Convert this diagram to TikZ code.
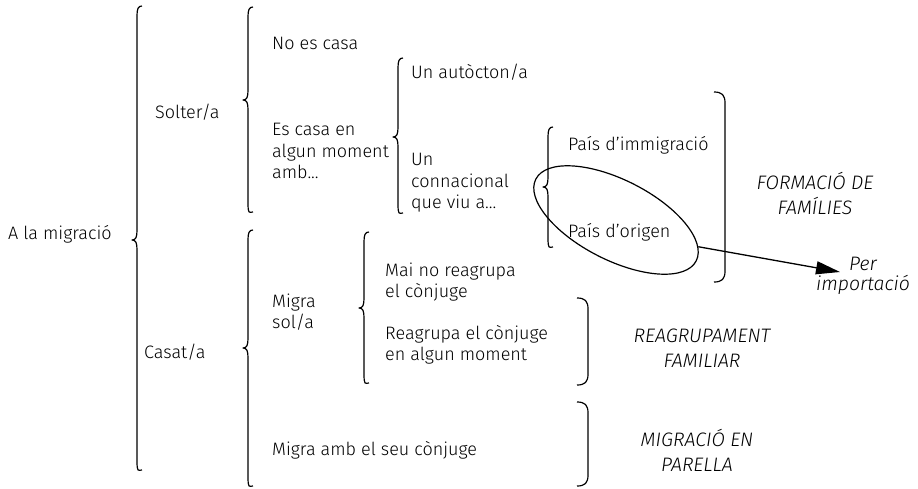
\documentclass[tikz,border=0pt]{standalone}
\usepackage{fontspec}
\setmainfont{Fira Sans Light}[ItalicFont={Fira Sans Light Italic}]
\usetikzlibrary{shapes.geometric,arrows.meta}
\tikzset{
  brc/.style={line width=1.2pt, line join=round},
  txt/.style={anchor=west, inner sep=0pt, align=left, font=\fontsize{18}{21.5}\selectfont},
  itx/.style={anchor=center, inner sep=0pt, align=center, font=\fontsize{19.5}{25}\selectfont\itshape},
}
% left curly brace: x of line, y top, y tip, y bottom (image y, downward)
\newcommand\brL[4]{\draw[brc] ({#1+5},{-(#2)}) .. controls ({#1+1},{-(#2)}) and (#1,{-(#2)-3}) .. (#1,{-(#2)-10}) -- (#1,{-(#3)+10}) .. controls (#1,{-(#3)+3}) and ({#1-1},{-(#3)}) .. ({#1-5},{-(#3)}) .. controls ({#1-1},{-(#3)}) and (#1,{-(#3)-3}) .. (#1,{-(#3)-10}) -- (#1,{-(#4)+10}) .. controls (#1,{-(#4)-3}) and ({#1+1},{-(#4)}) .. ({#1+5},{-(#4)});}
% right bracket without tip
\newcommand\brR[3]{\draw[brc] ({#1-11},{-(#2)}) .. controls ({#1-3},{-(#2)}) and (#1,{-(#2)-3}) .. (#1,{-(#2)-11}) -- (#1,{-(#3)+11}) .. controls (#1,{-(#3)+3}) and ({#1-3},{-(#3)}) .. ({#1-11},{-(#3)});}
\begin{document}
\begin{tikzpicture}[x=1pt,y=1pt]
\path[use as bounding box] (0,0) rectangle (918,-488);
% braces
\brL{137}{6}{240}{470}
\brL{248}{7}{100}{212}
\brL{398}{58}{137}{213}
\brL{548}{127}{187}{247}
\brL{248}{230}{348}{486}
\brL{364}{232}{308}{383}
\brR{725}{92}{282}
\brR{588}{298}{385}
\brR{588}{402}{486}
% texts
\node[txt] (mig) at (8,-234) {A la migració};
\node[txt] (sol) at (155,-112) {Solter/a};
\node[txt] (cas) at (144,-352) {Casat/a};
\node[txt] (noes) at (272,-43) {No es casa};
\node[txt] (esc) at (272,-151) {Es casa en\\algun moment\\amb...};
\node[txt] (aut) at (411,-72) {Un autòcton/a};
\node[txt] (con) at (411,-183) {Un\\connacional\\que viu a...};
\node[txt] (imm) at (568,-145) {País d’immigració};
\node[txt] (ori) at (568,-232) {País d’origen};
\node[txt] (msol) at (272,-312) {Migra\\sol/a};
\node[txt] (mai) at (385,-282) {Mai no reagrupa\\el cònjuge};
\node[txt] (reag) at (385,-345) {Reagrupa el cònjuge\\en algun moment};
\node[txt] (amb) at (272,-450) {Migra amb el seu cònjuge};
\node[itx] (form) at (815,-193) {FORMACIÓ DE\\FAMÍLIES};
\node[itx] (reagf) at (702,-348) {REAGRUPAMENT\\FAMILIAR};
\node[itx] (migp) at (697,-450) {MIGRACIÓ EN\\PARELLA};
\node[itx, font=\fontsize{19.5}{20}\selectfont\itshape] (per) at (863,-276) {Per\\importació};
% ellipse and arrow
\node[draw, line width=1.2pt, ellipse, minimum width=180pt, minimum height=80pt, inner sep=0pt, rotate=-27] (ell) at (616,-220) {};
\coordinate (aend) at (840,-272);
\draw[line width=1.3pt, -{Triangle[length=24pt,width=13pt]}] (ell.9) -- (aend);
\end{tikzpicture}
\end{document}
